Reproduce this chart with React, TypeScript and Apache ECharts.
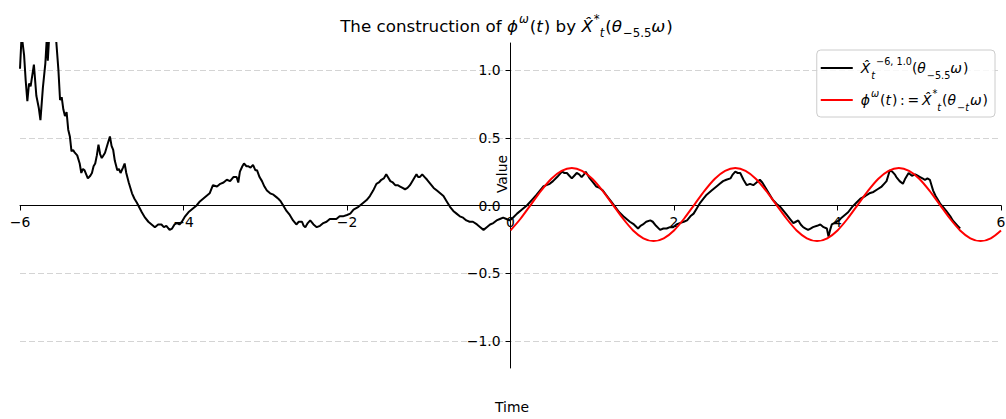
import React, { useEffect, useRef } from "react";
import * as echarts from "echarts";

const FONT = "'DejaVu Sans', sans-serif";

// Axis ticks
const xTickValues = [-6, -4, -2, 0, 2, 4, 6];
const yTickValues = [-1.0, -0.5, 0.0, 0.5, 1.0];

// Texts
const yAxisName = "Value";
const xAxisName = "Time";
const seriesNames = ["X̂_t^{−6, 1.0}(θ_{−5.5}ω)", "ϕ^ω(t) := X̂_t^*(θ_{−t}ω)"];
const titleRichText =
  "{n|The construction of }{i|ϕ}{supI|ω}{n|(}{i|t}{n|) by }{i|X̂}{supN|*}{subI|t}{n|(}{i|θ}{subN|−5.5}{i|ω}{n|)}";
const legendBlackText = "{iF|X̂}{subI|t}{supN|−6, 1.0}{n|(}{i|θ}{subN|−5.5}{i|ω}{n|)}";
const legendRedText =
  "{iF|ϕ}{supI|ω}{n|(}{i|t}{n|)\u2009:\u2009=\u2009}{i|X̂}{supN|*}{subI|t}{n|(}{i|θ}{subN|−}{subI|t}{i|ω}{n|)}";

// Black path: X̂_t^{-6,1.0}(θ_{-5.5}ω), [time, value]
const blackPath: [number, number][] = [
  [-6.0, 1.01], [-5.98, 1.26], [-5.95, 1.11], [-5.93, 0.92], [-5.91, 0.77], [-5.89, 0.9],
  [-5.87, 0.88], [-5.83, 1.04], [-5.8, 0.81], [-5.77, 0.72], [-5.75, 0.63], [-5.72, 0.87],
  [-5.69, 1.05], [-5.67, 1.26], [-5.66, 1.07], [-5.64, 1.28], [-5.61, 1.35], [-5.58, 1.3],
  [-5.56, 1.24], [-5.53, 1.0], [-5.51, 0.78], [-5.49, 0.8], [-5.47, 0.71], [-5.45, 0.66],
  [-5.43, 0.69], [-5.41, 0.56], [-5.39, 0.51], [-5.37, 0.4], [-5.35, 0.41], [-5.33, 0.39],
  [-5.3, 0.37], [-5.27, 0.31], [-5.25, 0.24], [-5.23, 0.27], [-5.21, 0.26], [-5.17, 0.2],
  [-5.14, 0.22], [-5.12, 0.24], [-5.1, 0.29], [-5.08, 0.31], [-5.06, 0.37], [-5.04, 0.45],
  [-5.02, 0.38], [-5.0, 0.35], [-4.98, 0.37], [-4.96, 0.39], [-4.93, 0.45], [-4.9, 0.51],
  [-4.88, 0.44], [-4.86, 0.41], [-4.84, 0.33], [-4.81, 0.26], [-4.79, 0.27], [-4.77, 0.24],
  [-4.74, 0.28], [-4.72, 0.31], [-4.7, 0.24], [-4.67, 0.17], [-4.63, 0.09], [-4.6, 0.05],
  [-4.57, 0.02], [-4.51, -0.05], [-4.47, -0.09], [-4.43, -0.12], [-4.39, -0.14], [-4.35, -0.16],
  [-4.31, -0.14], [-4.27, -0.14], [-4.24, -0.16], [-4.21, -0.15], [-4.17, -0.18], [-4.14, -0.17],
  [-4.11, -0.14], [-4.08, -0.13], [-4.05, -0.14], [-4.02, -0.12], [-3.98, -0.08], [-3.94, -0.05],
  [-3.9, -0.03], [-3.84, 0.0], [-3.8, 0.03], [-3.72, 0.07], [-3.68, 0.09], [-3.64, 0.15],
  [-3.59, 0.14], [-3.55, 0.16], [-3.51, 0.17], [-3.47, 0.19], [-3.43, 0.18], [-3.39, 0.21],
  [-3.35, 0.21], [-3.33, 0.17], [-3.31, 0.25], [-3.28, 0.29], [-3.26, 0.31], [-3.23, 0.29],
  [-3.21, 0.29], [-3.18, 0.28], [-3.15, 0.3], [-3.12, 0.26], [-3.1, 0.26], [-3.07, 0.21],
  [-3.04, 0.18], [-3.01, 0.14], [-2.98, 0.11], [-2.94, 0.09], [-2.9, 0.08], [-2.86, 0.06],
  [-2.84, 0.05], [-2.81, 0.03], [-2.78, 0.0], [-2.74, -0.04], [-2.7, -0.07], [-2.66, -0.11],
  [-2.62, -0.14], [-2.59, -0.12], [-2.55, -0.12], [-2.53, -0.15], [-2.51, -0.16], [-2.48, -0.13],
  [-2.45, -0.11], [-2.41, -0.14], [-2.37, -0.16], [-2.33, -0.15], [-2.29, -0.13], [-2.25, -0.12],
  [-2.21, -0.1], [-2.17, -0.1], [-2.13, -0.1], [-2.09, -0.08], [-2.05, -0.08], [-2.0, -0.07],
  [-1.96, -0.06], [-1.92, -0.03], [-1.86, -0.01], [-1.8, 0.02], [-1.76, 0.04], [-1.72, 0.07],
  [-1.68, 0.11], [-1.64, 0.16], [-1.61, 0.17], [-1.58, 0.19], [-1.55, 0.2], [-1.52, 0.23],
  [-1.5, 0.21], [-1.47, 0.18], [-1.44, 0.17], [-1.41, 0.15], [-1.38, 0.15], [-1.35, 0.14],
  [-1.32, 0.13], [-1.29, 0.12], [-1.26, 0.13], [-1.23, 0.15], [-1.19, 0.19], [-1.15, 0.23],
  [-1.13, 0.21], [-1.11, 0.21], [-1.08, 0.23], [-1.05, 0.21], [-1.02, 0.19], [-0.98, 0.16],
  [-0.94, 0.13], [-0.9, 0.11], [-0.86, 0.09], [-0.82, 0.07], [-0.78, 0.03], [-0.74, -0.01],
  [-0.7, -0.04], [-0.66, -0.06], [-0.62, -0.08], [-0.58, -0.09], [-0.54, -0.11], [-0.5, -0.12],
  [-0.46, -0.12], [-0.41, -0.14], [-0.37, -0.16], [-0.33, -0.18], [-0.29, -0.16], [-0.25, -0.14],
  [-0.21, -0.13], [-0.17, -0.11], [-0.13, -0.1], [-0.09, -0.09], [-0.05, -0.1], [-0.01, -0.11],
  [0.03, -0.09], [0.08, -0.06], [0.14, -0.03], [0.2, 0.0], [0.26, 0.04], [0.32, 0.08],
  [0.36, 0.11], [0.4, 0.14], [0.44, 0.15], [0.48, 0.16], [0.52, 0.18], [0.57, 0.21],
  [0.6, 0.23], [0.63, 0.25], [0.66, 0.24], [0.69, 0.24], [0.72, 0.22], [0.75, 0.2],
  [0.78, 0.22], [0.81, 0.24], [0.84, 0.23], [0.87, 0.21], [0.9, 0.23], [0.92, 0.25],
  [0.95, 0.22], [0.97, 0.2], [1.01, 0.17], [1.05, 0.14], [1.09, 0.13], [1.13, 0.11],
  [1.18, 0.07], [1.23, 0.03], [1.28, -0.01], [1.33, -0.05], [1.38, -0.08], [1.42, -0.1],
  [1.46, -0.12], [1.51, -0.14], [1.56, -0.17], [1.59, -0.15], [1.62, -0.14], [1.66, -0.12],
  [1.71, -0.11], [1.74, -0.12], [1.78, -0.15], [1.83, -0.18], [1.87, -0.17], [1.91, -0.17],
  [1.95, -0.16], [1.99, -0.16], [2.03, -0.14], [2.07, -0.13], [2.12, -0.12], [2.16, -0.11],
  [2.2, -0.08], [2.24, -0.06], [2.28, -0.02], [2.32, 0.02], [2.36, 0.05], [2.4, 0.08],
  [2.46, 0.11], [2.52, 0.14], [2.56, 0.16], [2.6, 0.18], [2.64, 0.19], [2.69, 0.2],
  [2.72, 0.23], [2.75, 0.25], [2.78, 0.24], [2.81, 0.24], [2.85, 0.19], [2.89, 0.15],
  [2.93, 0.16], [2.97, 0.15], [3.01, 0.17], [3.05, 0.19], [3.08, 0.17], [3.11, 0.14],
  [3.16, 0.09], [3.21, 0.04], [3.26, 0.01], [3.3, -0.01], [3.34, -0.04], [3.38, -0.07],
  [3.42, -0.1], [3.46, -0.13], [3.49, -0.12], [3.52, -0.11], [3.55, -0.14], [3.58, -0.16],
  [3.61, -0.17], [3.64, -0.18], [3.67, -0.17], [3.7, -0.16], [3.75, -0.15], [3.79, -0.14],
  [3.83, -0.16], [3.87, -0.17], [3.89, -0.23], [3.91, -0.18], [3.93, -0.14], [3.96, -0.13],
  [3.99, -0.12], [4.02, -0.11], [4.05, -0.09], [4.09, -0.07], [4.13, -0.05], [4.18, -0.01],
  [4.23, 0.02], [4.28, 0.05], [4.34, 0.07], [4.39, 0.09], [4.44, 0.1], [4.49, 0.12],
  [4.54, 0.14], [4.57, 0.16], [4.6, 0.18], [4.62, 0.22], [4.64, 0.26], [4.67, 0.25],
  [4.7, 0.23], [4.72, 0.21], [4.76, 0.18], [4.8, 0.16], [4.83, 0.2], [4.87, 0.24],
  [4.91, 0.22], [4.95, 0.23], [4.98, 0.22], [5.01, 0.21], [5.04, 0.2], [5.07, 0.19],
  [5.1, 0.2], [5.13, 0.19], [5.15, 0.15], [5.17, 0.11], [5.2, 0.07], [5.23, 0.04],
  [5.26, 0.01], [5.29, -0.01], [5.33, -0.04], [5.38, -0.08], [5.41, -0.11], [5.44, -0.13],
  [5.47, -0.15], [5.5, -0.17],
];

// Red curve: ϕ^ω(t), [time, value]
const redPath: [number, number][] = [
  [0.0, -0.184], [0.125, -0.096], [0.25, 0.007], [0.375, 0.11], [0.5, 0.198], [0.625, 0.256],
  [0.75, 0.277], [0.875, 0.256], [1.0, 0.198], [1.125, 0.11], [1.25, 0.007], [1.375, -0.096],
  [1.5, -0.184], [1.625, -0.242], [1.75, -0.263], [1.875, -0.242], [2.0, -0.184], [2.125, -0.096],
  [2.25, 0.007], [2.375, 0.11], [2.5, 0.198], [2.625, 0.256], [2.75, 0.277], [2.875, 0.256],
  [3.0, 0.198], [3.125, 0.11], [3.25, 0.007], [3.375, -0.096], [3.5, -0.184], [3.625, -0.242],
  [3.75, -0.263], [3.875, -0.242], [4.0, -0.184], [4.125, -0.096], [4.25, 0.007], [4.375, 0.11],
  [4.5, 0.198], [4.625, 0.256], [4.75, 0.277], [4.875, 0.256], [5.0, 0.198], [5.125, 0.11],
  [5.25, 0.007], [5.375, -0.096], [5.5, -0.184], [5.625, -0.242], [5.75, -0.263], [5.875, -0.242],
  [6.0, -0.184],
];

const minus = (s: string) => s.replace("-", "\u2212");

function mathRich(base: number, small: number, lh: number, supLh: number, subLh: number, italPad: number, firstPad: number) {
  const common = { fontFamily: FONT, color: "#000" };
  return {
    n: { ...common, fontSize: base, lineHeight: lh },
    i: { ...common, fontSize: base, lineHeight: lh, fontStyle: "italic", padding: [0, italPad, 0, 0] },
    iF: { ...common, fontSize: base, lineHeight: lh, fontStyle: "italic", padding: [0, italPad, 0, firstPad] },
    supI: { ...common, fontSize: small, lineHeight: supLh, verticalAlign: "top", fontStyle: "italic", padding: [0, italPad, 0, 0] },
    supN: { ...common, fontSize: small, lineHeight: supLh, verticalAlign: "top" },
    subI: { ...common, fontSize: small, lineHeight: subLh, verticalAlign: "bottom", fontStyle: "italic", padding: [0, italPad, 0, 0] },
    subN: { ...common, fontSize: small, lineHeight: subLh, verticalAlign: "bottom" },
  };
}

// Layout of the plotting area (pixels)
const GRID = { left: 20, right: 5, top: 43, bottom: 51 };
const Y_MIN = -1.2;
const Y_MAX = 1.2;
const X_MIN = -6;
const X_MAX = 6;

export default function App() {
  const ref = useRef<HTMLDivElement>(null);
  useEffect(() => {
    document.body.style.margin = "0";
    if (!ref.current) return;
    const chart = echarts.init(ref.current, undefined, { renderer: "svg" });
    const W = 1006;
    const H = 419;
    const gw = W - GRID.left - GRID.right;
    const gh = H - GRID.top - GRID.bottom;
    // spines pass through zero of the other axis
    const xAxisOffset = -(gh * (0 - Y_MIN)) / (Y_MAX - Y_MIN);
    const yAxisOffset = -(gw * (0 - X_MIN)) / (X_MAX - X_MIN);
    const option: any = {
      animation: false,
      backgroundColor: "#ffffff",
      grid: { ...GRID, containLabel: false, outerBoundsMode: "none" },
      xAxis: {
        type: "value",
        position: "bottom",
        offset: xAxisOffset,
        min: X_MIN,
        max: X_MAX,
        interval: 2,
        axisLine: { onZero: false, lineStyle: { color: "#000", width: 1 } },
        axisTick: { show: true, length: 5, customValues: xTickValues, lineStyle: { color: "#000", width: 1 } },
        axisLabel: {
          margin: 9,
          fontSize: 13.9,
          fontFamily: FONT,
          color: "#000",
          customValues: xTickValues,
          formatter: (v: number) => minus(String(v)),
        },
        splitLine: { show: false },
      },
      yAxis: {
        type: "value",
        position: "left",
        offset: yAxisOffset,
        min: Y_MIN,
        max: Y_MAX,
        axisLine: { onZero: false, lineStyle: { color: "#000", width: 1 } },
        axisTick: { show: true, length: 5, customValues: yTickValues, lineStyle: { color: "#000", width: 1 } },
        axisLabel: {
          margin: 10,
          fontSize: 13.9,
          fontFamily: FONT,
          color: "#000",
          customValues: yTickValues,
          formatter: (v: number) => minus(v.toFixed(1)),
        },
        splitLine: { show: true, lineStyle: { color: "#d4d4d4", type: [6, 3], width: 1 } },
      },
      legend: {
        data: seriesNames,
        orient: "vertical",
        right: 11,
        top: 50,
        padding: [6, 7, 5, 4],
        itemGap: 8,
        itemWidth: 32,
        itemHeight: 2,
        icon: "rect",
        backgroundColor: "rgba(255,255,255,0.8)",
        borderColor: "#cccccc",
        borderWidth: 1,
        borderRadius: 4,
        selectedMode: false,
        formatter: (name: string) => (name === seriesNames[0] ? legendBlackText : legendRedText),
        textStyle: {
          fontSize: 13.9,
          fontFamily: FONT,
          color: "#000",
          rich: mathRich(13.9, 9.7, 24, 12, 14, 1, 3),
        },
      },
      graphic: [
        {
          type: "text",
          x: 506.5,
          y: 26,
          style: {
            text: titleRichText,
            rich: mathRich(16.7, 11.7, 26, 14, 16, 1, 0),
            fontSize: 16.7,
            fontFamily: FONT,
            fill: "#000",
            align: "center",
            verticalAlign: "middle",
          },
        },
        {
          type: "text",
          x: 501.5,
          y: 174,
          rotation: Math.PI / 2,
          style: {
            text: yAxisName,
            fontSize: 13.9,
            fontFamily: FONT,
            fill: "#000",
            align: "center",
            verticalAlign: "middle",
          },
        },
        {
          type: "text",
          x: 512,
          y: 407,
          style: {
            text: xAxisName,
            fontSize: 13.9,
            fontFamily: FONT,
            fill: "#000",
            align: "center",
            verticalAlign: "middle",
          },
        },
      ],
      series: [
        {
          name: seriesNames[0],
          type: "line",
          data: blackPath,
          showSymbol: false,
          symbol: "none",
          clip: true,
          lineStyle: { color: "#000000", width: 2 },
          itemStyle: { color: "#000000" },
          z: 3,
        },
        {
          name: seriesNames[1],
          type: "line",
          data: redPath,
          showSymbol: false,
          symbol: "none",
          smooth: 0.3,
          clip: true,
          lineStyle: { color: "#ff0000", width: 2 },
          itemStyle: { color: "#ff0000" },
          z: 4,
        },
      ],
    };
    chart.setOption(option);
    return () => chart.dispose();
  }, []);
  return <div ref={ref} style={{ width: 1006, height: 419 }} />;
}
